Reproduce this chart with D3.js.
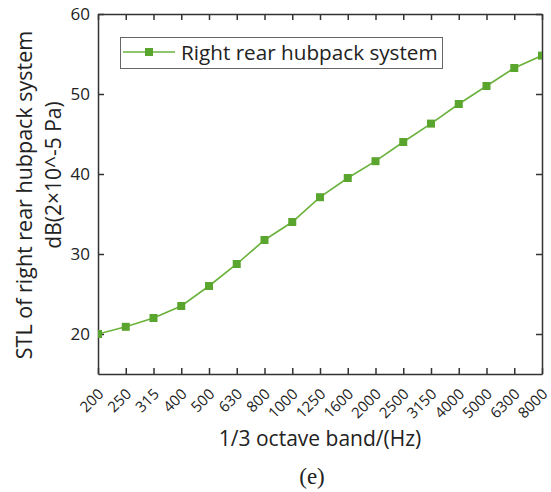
<!DOCTYPE html>
<html>
<head>
<meta charset="utf-8">
<script src="https://cdn.jsdelivr.net/npm/d3@7"></script>
<style>
  body { margin: 0; background: #fff; }
  text { font-family: "Open Sans", "Noto Sans", sans-serif; fill: #222; }
</style>
</head>
<body>
<svg id="chart" width="551" height="492"></svg>
<script>
// 1/3 octave band centres
var bands = ['200', '250', '315', '400', '500', '630', '800', '1000', '1250',
    '1600', '2000', '2500', '3150', '4000', '5000', '6300', '8000'];

// STL values
var stl = [20.0, 20.9, 22.0, 23.5, 26.0, 28.75, 31.75, 34.0, 37.1,
    39.5, 41.6, 44.0, 46.3, 48.75, 51.0, 53.25, 54.8];

var yTicks = [20, 30, 40, 50, 60];

var seriesName = 'Right rear hubpack system';
var lineColor = '#6ab23c';
var markColor = '#5aa52e';

var svg = d3.select('#chart');

var pLeft = 98, pRight = 542, pTop = 14, pBottom = 374;

var x = d3.scalePoint()
    .domain(bands)
    .range([pLeft, pRight])
    .padding(0);

var y = d3.scaleLinear()
    .domain([15, 60])
    .range([pBottom, pTop]);

// clip so end markers are cut by the frame
svg.append('clipPath')
    .attr('id', 'plotclip')
    .append('rect')
    .attr('x', pLeft)
    .attr('y', pTop)
    .attr('width', pRight - pLeft)
    .attr('height', pBottom - pTop);

// axes, ticks pointing inward
var gBottom = svg.append('g')
    .attr('transform', 'translate(0,' + pBottom + ')')
    .call(d3.axisBottom(x).tickSizeInner(-6).tickSizeOuter(0).tickPadding(8));

gBottom.selectAll('text')
    .attr('font-size', 15)
    .attr('text-anchor', 'end')
    .attr('dy', null)
    .attr('y', null)
    .attr('transform', 'translate(6,21) rotate(-45)');

var gTop = svg.append('g')
    .attr('transform', 'translate(0,' + pTop + ')')
    .call(d3.axisTop(x).tickSizeInner(-6).tickSizeOuter(0).tickFormat(''));

var gLeft = svg.append('g')
    .attr('transform', 'translate(' + pLeft + ',0)')
    .call(d3.axisLeft(y).tickValues(yTicks).tickSizeInner(-6).tickSizeOuter(0).tickPadding(8));

gLeft.selectAll('text').attr('font-size', 17);

var gRight = svg.append('g')
    .attr('transform', 'translate(' + pRight + ',0)')
    .call(d3.axisRight(y).tickValues(yTicks).tickSizeInner(-6).tickSizeOuter(0).tickFormat(''));

svg.selectAll('.domain, .tick line')
    .attr('stroke', '#333')
    .attr('stroke-width', 1.5);

// line + markers
var line = d3.line()
    .x(function(d, i) { return x(bands[i]); })
    .y(function(d) { return y(d); });

var plot = svg.append('g').attr('clip-path', 'url(#plotclip)');

plot.append('path')
    .datum(stl)
    .attr('fill', 'none')
    .attr('stroke', lineColor)
    .attr('stroke-width', 1.6)
    .attr('d', line);

plot.selectAll('rect.mark')
    .data(stl)
    .enter()
    .append('rect')
    .attr('class', 'mark')
    .attr('x', function(d, i) { return x(bands[i]) - 4; })
    .attr('y', function(d) { return y(d) - 4; })
    .attr('width', 8)
    .attr('height', 8)
    .attr('fill', markColor);

// legend
var lg = svg.append('g');
lg.append('rect')
    .attr('x', 120.5)
    .attr('y', 37.5)
    .attr('width', 322)
    .attr('height', 31)
    .attr('fill', '#fff')
    .attr('stroke', '#666')
    .attr('stroke-width', 1);
lg.append('line')
    .attr('x1', 123).attr('x2', 175)
    .attr('y1', 52).attr('y2', 52)
    .attr('stroke', lineColor)
    .attr('stroke-width', 1.6);
lg.append('rect')
    .attr('x', 145).attr('y', 48)
    .attr('width', 8).attr('height', 8)
    .attr('fill', markColor);
lg.append('text')
    .attr('x', 181)
    .attr('y', 60)
    .attr('font-size', 20.7)
    .text(seriesName);

// axis titles
svg.append('text')
    .attr('transform', 'translate(32,195) rotate(-90)')
    .attr('text-anchor', 'middle')
    .attr('font-size', 21.5)
    .text('STL of right rear hubpack system');

svg.append('text')
    .attr('transform', 'translate(61,175) rotate(-90)')
    .attr('text-anchor', 'middle')
    .attr('font-size', 21)
    .text('dB(2×10^-5 Pa)');

svg.append('text')
    .attr('x', 320)
    .attr('y', 446)
    .attr('text-anchor', 'middle')
    .attr('font-size', 21)
    .text('1/3 octave band/(Hz)');

svg.append('text')
    .attr('x', 312)
    .attr('y', 484)
    .attr('text-anchor', 'middle')
    .attr('font-size', 23)
    .style('font-family', '"Liberation Serif", "Times New Roman", serif')
    .text('(e)');
</script>
</body>
</html>
